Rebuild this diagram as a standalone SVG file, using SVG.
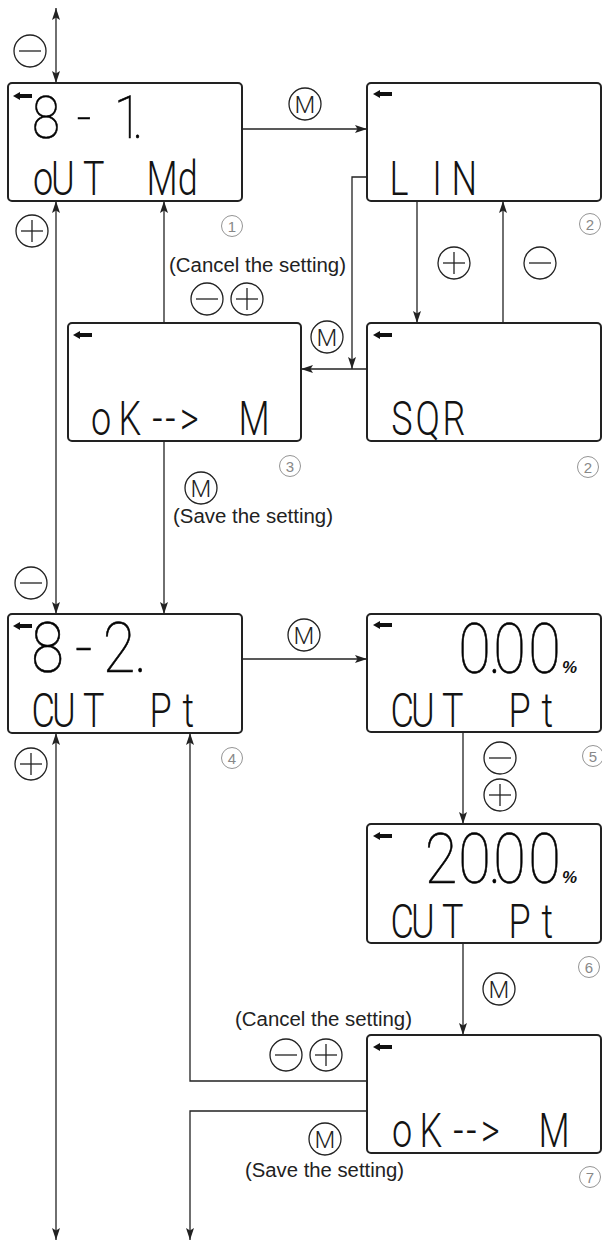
<svg xmlns="http://www.w3.org/2000/svg" width="602" height="1245" viewBox="0 0 602 1245">
<style>
.box{fill:#fff;stroke:#222;stroke-width:2}
.ln{fill:none;stroke:#222;stroke-width:1.3}
.arr{marker-end:url(#ah)}
.dbl{marker-start:url(#ah);marker-end:url(#ah)}
.btn{fill:#fff;stroke:#222;stroke-width:1.3}
.bl{stroke:#222;stroke-width:1.3}
.m{font-family:Roboto,"Liberation Sans",sans-serif;font-weight:300;font-size:24px;fill:#222;text-anchor:middle}
.cap{font-family:"Liberation Sans",Arial,sans-serif;font-size:20px;fill:#222}
.num{fill:none;stroke:#888;stroke-width:0.9}
.nt{font-family:"Liberation Sans",Arial,sans-serif;font-size:15px;fill:#888;text-anchor:middle}
.big{font-family:Roboto,"DejaVu Sans",sans-serif;font-weight:100;fill:#000;stroke:#000;stroke-width:0.6;opacity:0.99}
.f60{font-size:60px}
.f70{font-size:70px}
.sm{font-family:Roboto,"DejaVu Sans",sans-serif;font-weight:300;font-size:48px;fill:#111;opacity:0.99}
.pct{font-family:"Liberation Sans",Arial,sans-serif;font-weight:bold;font-style:italic;font-size:17px;fill:#111}
</style>
<defs>
<marker id="ah" markerUnits="userSpaceOnUse" markerWidth="13" markerHeight="9" refX="12" refY="4" orient="auto-start-reverse">
<path d="M0,0 L12,4 L0,8 L2.5,4 Z" fill="#222"/>
</marker>
<path id="ico" d="M0,4 L7,0 L7,2 L19,2 L19,6 L7,6 L7,8 Z" fill="#111"/>
<g id="minus"><circle r="16" class="btn"/><line x1="-11" y1="0" x2="11" y2="0" class="bl"/></g>
<g id="plus"><circle r="16" class="btn"/><line x1="-11" y1="0" x2="11" y2="0" class="bl"/><line x1="0" y1="-11" x2="0" y2="11" class="bl"/></g>
</defs>
<rect width="602" height="1245" fill="#fff"/>

<g id="connectors">
<path class="ln dbl" d="M56,8 V83"/>
<path class="ln dbl" d="M56,201 V614"/>
<path class="ln dbl" d="M56,733 V1240"/>
<path class="ln arr" d="M242,129 H367"/>
<path class="ln arr" d="M367,177 H352 V369"/>
<path class="ln arr" d="M367,369 H301"/>
<path class="ln arr" d="M417,201 V323"/>
<path class="ln arr" d="M503,323 V201"/>
<path class="ln arr" d="M164,323 V201"/>
<path class="ln arr" d="M164,441 V614"/>
<path class="ln arr" d="M242,659 H367"/>
<path class="ln arr" d="M463,732 V824"/>
<path class="ln arr" d="M463,943 V1035"/>
<path class="ln arr" d="M367,1081 H190 V733"/>
<path class="ln arr" d="M367,1111 H190 V1240"/>
</g>

<g id="node1">
<rect class="box" x="8" y="83" width="234" height="118" rx="4"/>
<use href="#ico" x="13" y="92"/>
<text class="big f60" transform="translate(0,138) scale(0.85,1)" x="37.6 90 117.6 134.1 155.8">8- 1.</text>
<text class="sm" transform="translate(0,195) scale(0.75,1)" x="44 68 110.7 146.7 195.2 237 246.7">oUT Md</text>
</g>
<g id="node2">
<rect class="box" x="367" y="83" width="234" height="118" rx="4"/>
<use href="#ico" x="373" y="90"/>
<text class="sm" transform="translate(0,195) scale(0.75,1)" x="519.2 576.5 601.9">LIN</text>
</g>
<g id="node2b">
<rect class="box" x="367" y="323" width="234" height="118" rx="4"/>
<use href="#ico" x="373" y="331"/>
<text class="sm" transform="translate(0,435) scale(0.75,1)" x="521.6 554 589.9">SQR</text>
</g>
<g id="node3">
<rect class="box" x="68" y="323" width="233" height="118" rx="4"/>
<use href="#ico" x="73" y="331"/>
<text class="sm" transform="translate(0,435) scale(0.75,1)" x="121.3 157.9 203 220.4 240 280 317.9">oK--&gt; M</text>
</g>
<g id="node4">
<rect class="box" x="8" y="614" width="234" height="119" rx="4"/>
<use href="#ico" x="13" y="622"/>
<text class="big f70" transform="translate(0,672) scale(0.85,1)" x="36.9 88.2 120.9 158">8-2.</text>
<text class="sm" transform="translate(0,727) scale(0.75,1)" x="42 69.3 110.7 146.7 199.2 243.5">CUT Pt</text>
</g>
<g id="node5">
<rect class="box" x="367" y="614" width="234" height="118" rx="4"/>
<use href="#ico" x="373" y="621"/>
<text class="big f70" transform="translate(0,673) scale(0.85,1)" x="539.1 574.8 580.2 621.4">0.00</text>
<text class="pct" x="562" y="673">%</text>
<text class="sm" transform="translate(0,727) scale(0.75,1)" x="520.7 548 589.3 625.3 677.9 722.1">CUT Pt</text>
</g>
<g id="node6">
<rect class="box" x="367" y="824" width="234" height="119" rx="4"/>
<use href="#ico" x="373" y="832"/>
<text class="big f70" transform="translate(0,883) scale(0.85,1)" x="499.8 539.1 574.8 580.2 621.4">20.00</text>
<text class="pct" x="562" y="883">%</text>
<text class="sm" transform="translate(0,938) scale(0.75,1)" x="520.7 548 589.3 625.3 677.9 722.1">CUT Pt</text>
</g>
<g id="node7">
<rect class="box" x="367" y="1035" width="234" height="118" rx="4"/>
<use href="#ico" x="373" y="1043"/>
<text class="sm" transform="translate(0,1147) scale(0.75,1)" x="522.7 559.2 604.4 621.7 641.3 680 717.9">oK--&gt; M</text>
</g>

<g id="labels">
<use href="#minus" x="30" y="51"/>
<use href="#plus" x="32" y="231"/>
<use href="#minus" x="31" y="583"/>
<use href="#plus" x="31" y="764"/>
<circle class="btn" cx="305" cy="104" r="16"/><text class="m" x="305" y="112.5">M</text>
<circle class="btn" cx="327" cy="337" r="16"/><text class="m" x="327" y="345.5">M</text>
<use href="#plus" x="454" y="263"/>
<use href="#minus" x="540" y="263"/>
<text class="cap" x="169" y="272" textLength="177" lengthAdjust="spacingAndGlyphs">(Cancel the setting)</text>
<use href="#minus" x="207" y="299"/>
<use href="#plus" x="247" y="299"/>
<circle class="btn" cx="201" cy="488" r="16"/><text class="m" x="201" y="496.5">M</text>
<text class="cap" x="173" y="523" textLength="160" lengthAdjust="spacingAndGlyphs">(Save the setting)</text>
<circle class="btn" cx="304" cy="635" r="16"/><text class="m" x="304" y="643.5">M</text>
<use href="#minus" x="500" y="758"/>
<use href="#plus" x="500" y="795"/>
<circle class="btn" cx="499" cy="989" r="16"/><text class="m" x="499" y="997.5">M</text>
<text class="cap" x="235" y="1026" textLength="177" lengthAdjust="spacingAndGlyphs">(Cancel the setting)</text>
<use href="#minus" x="286" y="1055"/>
<use href="#plus" x="326" y="1055"/>
<circle class="btn" cx="325" cy="1139" r="16"/><text class="m" x="325" y="1147.5">M</text>
<text class="cap" x="245" y="1177" textLength="159" lengthAdjust="spacingAndGlyphs">(Save the setting)</text>
</g>

<g id="stepnumbers">
<circle class="num" cx="232" cy="226" r="10.5"/><text class="nt" x="232" y="231.5">1</text>
<circle class="num" cx="590" cy="224" r="10.5"/><text class="nt" x="590" y="229.5">2</text>
<circle class="num" cx="290" cy="466" r="10.5"/><text class="nt" x="290" y="471.5">3</text>
<circle class="num" cx="588" cy="467" r="10.5"/><text class="nt" x="588" y="472.5">2</text>
<circle class="num" cx="232" cy="758" r="10.5"/><text class="nt" x="232" y="763.5">4</text>
<circle class="num" cx="593" cy="756" r="10.5"/><text class="nt" x="593" y="761.5">5</text>
<circle class="num" cx="589" cy="967" r="10.5"/><text class="nt" x="589" y="972.5">6</text>
<circle class="num" cx="590" cy="1177" r="10.5"/><text class="nt" x="590" y="1182.5">7</text>
</g>
</svg>
